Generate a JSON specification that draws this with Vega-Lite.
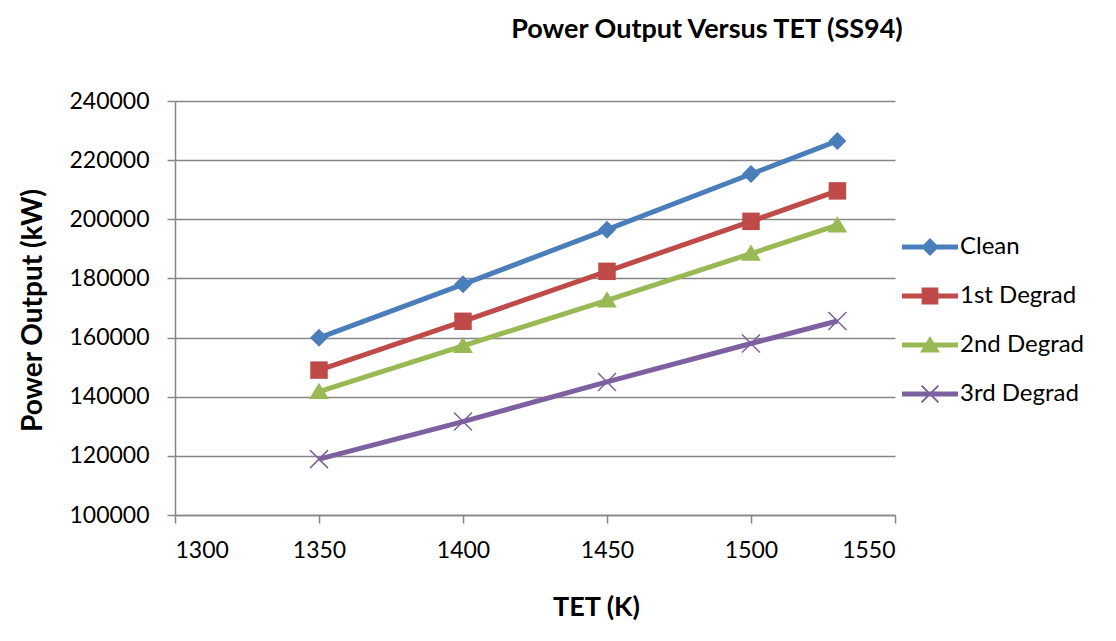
{
  "$schema": "https://vega.github.io/schema/vega-lite/v6.json",
  "width": 720,
  "height": 414,
  "autosize": "none",
  "padding": {"left": 175, "top": 101, "right": 221, "bottom": 126},
  "background": "white",
  "config": {
    "font": "Lato",
    "view": {"stroke": null},
    "axis": {
      "labelFont": "Lato", "labelFontSize": 23, "labelColor": "#000000",
      "titleFont": "Lato", "titleFontSize": 27, "titleFontWeight": "bold", "titleColor": "#000000",
      "domainColor": "#868686", "domainWidth": 1.5, "tickColor": "#868686", "tickWidth": 1.5,
      "gridColor": "#868686", "gridWidth": 1.5, "tickSize": 8
    },
    "legend": {"labelFont": "Lato", "labelFontSize": 24, "labelColor": "#000000"}
  },
  "title": {
    "text": "Power Output Versus TET (SS94)",
    "font": "Lato", "fontSize": 27, "fontWeight": "bold", "color": "#000000",
    "anchor": "middle", "dx": 172, "offset": 46
  },
  "data": {
    "values": [
      {"tet": 1350, "power": 159900, "series": "Clean"},
      {"tet": 1400, "power": 178000, "series": "Clean"},
      {"tet": 1450, "power": 196500, "series": "Clean"},
      {"tet": 1500, "power": 215300, "series": "Clean"},
      {"tet": 1530, "power": 226500, "series": "Clean"},
      {"tet": 1350, "power": 149000, "series": "1st Degrad"},
      {"tet": 1400, "power": 165500, "series": "1st Degrad"},
      {"tet": 1450, "power": 182400, "series": "1st Degrad"},
      {"tet": 1500, "power": 199300, "series": "1st Degrad"},
      {"tet": 1530, "power": 209600, "series": "1st Degrad"},
      {"tet": 1350, "power": 141700, "series": "2nd Degrad"},
      {"tet": 1400, "power": 157200, "series": "2nd Degrad"},
      {"tet": 1450, "power": 172600, "series": "2nd Degrad"},
      {"tet": 1500, "power": 188400, "series": "2nd Degrad"},
      {"tet": 1530, "power": 198000, "series": "2nd Degrad"},
      {"tet": 1350, "power": 118900, "series": "3rd Degrad"},
      {"tet": 1400, "power": 131600, "series": "3rd Degrad"},
      {"tet": 1450, "power": 145000, "series": "3rd Degrad"},
      {"tet": 1500, "power": 158000, "series": "3rd Degrad"},
      {"tet": 1530, "power": 165600, "series": "3rd Degrad"}
    ]
  },
  "encoding": {
    "x": {
      "field": "tet", "type": "quantitative",
      "scale": {"domain": [1300, 1550], "nice": false, "zero": false},
      "axis": {"title": "TET (K)", "values": [1300, 1350, 1400, 1450, 1500, 1550], "format": "d", "grid": false, "labelPadding": 16, "titleX": 421, "titleY": 92, "titleAlign": "center", "titleBaseline": "middle"}
    },
    "y": {
      "field": "power", "type": "quantitative",
      "scale": {"domain": [100000, 240000], "nice": false, "zero": false},
      "axis": {"title": "Power Output (kW)", "values": [100000, 120000, 140000, 160000, 180000, 200000, 220000, 240000], "format": "d", "grid": true, "labelPadding": 18, "titleFontSize": 28, "titleX": -142, "titleY": 209, "titleAlign": "center", "titleBaseline": "middle", "titleAngle": -90}
    },
    "color": {
      "field": "series", "type": "nominal",
      "scale": {"domain": ["Clean", "1st Degrad", "2nd Degrad", "3rd Degrad"], "range": ["#4A7EBB", "#BE4B48", "#98B954", "#7D60A0"]},
      "legend": {
        "title": null, "orient": "none", "legendX": 735, "legendY": 126,
        "symbolSize": 1600, "symbolStrokeWidth": 0, "symbolOpacity": 1, "labelOffset": 10, "rowPadding": 17, "padding": 0
      }
    }
  },
  "layer": [
    {
      "mark": {"type": "line", "strokeWidth": 5},
      "encoding": {}
    },
    {
      "transform": [{"filter": "datum.series === 'Clean'"}],
      "mark": {"type": "point", "filled": true, "opacity": 1, "shape": "M0,-1L1,0L0,1L-1,0Z", "size": 324}
    },
    {
      "transform": [{"filter": "datum.series === '1st Degrad'"}],
      "mark": {"type": "point", "filled": true, "opacity": 1, "shape": "M-1,-1H1V1H-1Z", "size": 306}
    },
    {
      "transform": [{"filter": "datum.series === '2nd Degrad'"}],
      "mark": {"type": "point", "filled": true, "opacity": 1, "shape": "M0,-1L1.1,0.8L-1.1,0.8Z", "size": 324}
    },
    {
      "transform": [{"filter": "datum.series === '3rd Degrad'"}],
      "mark": {"type": "point", "filled": false, "opacity": 1, "shape": "M-1,-1L1,1M-1,1L1,-1", "size": 324, "strokeWidth": 1.5}
    },
    {
      "transform": [{"filter": "datum.tet < 0"}],
      "mark": {"type": "point", "filled": true, "opacity": 1},
      "encoding": {
        "shape": {
          "field": "series", "type": "nominal",
          "scale": {"domain": ["Clean", "1st Degrad", "2nd Degrad", "3rd Degrad"], "range": [
            "M-1.4,-0.12H1.4V0.12H-1.4Z M0,-0.45L0.45,0L0,0.45L-0.45,0Z",
            "M-1.4,-0.12H1.4V0.12H-1.4Z M-0.42,-0.42H0.42V0.42H-0.42Z",
            "M-1.4,-0.12H1.4V0.12H-1.4Z M0,-0.45L0.5,0.38L-0.5,0.38Z",
            "M-1.4,-0.12H1.4V0.12H-1.4Z M-0.455,-0.385L-0.385,-0.455L0.455,0.385L0.385,0.455Z M-0.455,0.385L0.385,-0.455L0.455,-0.385L-0.385,0.455Z"
          ]},
          "legend": {
            "title": null, "orient": "none", "legendX": 735, "legendY": 126,
            "symbolSize": 1600, "symbolStrokeWidth": 0, "symbolOpacity": 1, "labelOffset": 10, "rowPadding": 17, "padding": 0
          }
        }
      }
    }
  ]
}
